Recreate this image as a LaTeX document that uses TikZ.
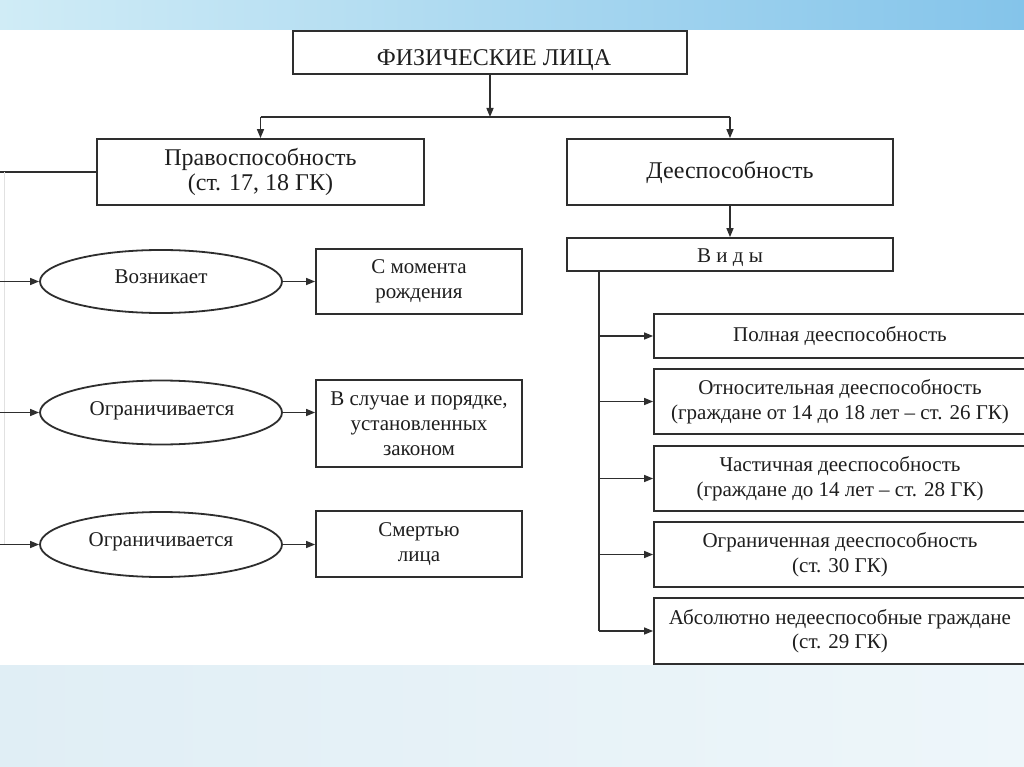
\documentclass[tikz,border=0pt]{standalone}
\usepackage{fontspec}
\setmainfont{Liberation Serif}
\usetikzlibrary{shapes.geometric,arrows.meta}
\definecolor{ink}{HTML}{1E1E1E}
\definecolor{frame}{HTML}{2E2E2E}
\tikzset{
  every node/.style={text=ink},
  boxnode/.style={draw=frame, line width=1.8pt, rectangle, inner sep=0pt, align=center},
  ellnode/.style={draw=frame, line width=1.8pt, ellipse, inner sep=0pt, align=center},
  txt/.style={inner sep=0pt, align=center},
  conn/.style={draw=frame, line width=1.4pt},
  arr/.style={conn, -{Triangle[length=9pt,width=7pt]}},
  ftitle/.style={font=\fontsize{24}{26}\selectfont},
  flevel/.style={font=\fontsize{24}{25}\selectfont},
  fmid/.style={font=\fontsize{21}{25}\selectfont},
  fright/.style={font=\fontsize{21}{24.5}\selectfont},
}
\begin{document}
\begin{tikzpicture}[x=1pt,y=-1pt]
\useasboundingbox (0,0) rectangle (1024,767);
\clip (0,0) rectangle (1024,767);
% background
\fill[white] (0,0) rectangle (1024,767);
\shade[left color={rgb,255:red,208;green,236;blue,246}, right color={rgb,255:red,132;green,196;blue,234}] (0,0) rectangle (1024,30);
\shade[left color={rgb,255:red,224;green,238;blue,245}, right color={rgb,255:red,238;green,246;blue,250}] (0,665) rectangle (1024,767);

% top level
\node[boxnode, minimum width=394pt, minimum height=43pt] (title) at (490,52.5) {};
\node[txt, ftitle] (titletext) at (494,60) {ФИЗИЧЕСКИЕ ЛИЦА};
\node[boxnode, flevel, minimum width=327pt, minimum height=66pt] (pravo) at (260.5,172) {Правоспособность\\(ст. 17, 18 ГК)};
\node[boxnode, flevel, minimum width=326pt, minimum height=66pt] (dee) at (730,172) {Дееспособность};
\node[boxnode, minimum width=326pt, minimum height=33pt] (vidy) at (730,254.5) {};
\node[txt, fright] (vidytext) at (730,258) {В и д ы};

\coordinate (split) at (490,117);
\draw[arr] (title.south) -- (split);
\draw[conn] (pravo.north |- split) -- (dee.north |- split);
\draw[arr] (pravo.north |- split) -- (pravo.north);
\draw[arr] (dee.north |- split) -- (dee.north);

% left branch
\node[ellnode, minimum width=242pt, minimum height=63pt] (e1) at (161,281.5) {};
\node[ellnode, minimum width=242pt, minimum height=64pt] (e2) at (161,412.5) {};
\node[ellnode, minimum width=242pt, minimum height=65pt] (e3) at (161,544.5) {};
\node[txt, fmid] (e1t) at (161,277) {Возникает};
\node[txt, fmid] (e2t) at (162,411) {Ограничивается};
\node[txt, fmid] (e3t) at (161,542) {Ограничивается};
\node[boxnode, fmid, minimum width=206pt, minimum height=65pt] (b1) at (419,281.5) {С момента\\рождения};
\node[boxnode, fmid, minimum width=206pt, minimum height=87pt] (b2) at (419,423.5) {В случае и порядке,\\установленных\\законом};
\node[boxnode, fmid, minimum width=206pt, minimum height=66pt] (b3) at (419,544) {Смертью\\лица};

\coordinate (lft) at (0,172);
\coordinate (spine) at (4,172);
\draw[conn] (pravo.west) -- (lft);
\draw[draw={rgb,255:red,225;green,225;blue,225}, line width=1pt] (spine) -- (spine |- e3.west);
\draw[arr] (lft |- e1.west) -- (e1.west);
\draw[arr] (lft |- e2.west) -- (e2.west);
\draw[arr] (lft |- e3.west) -- (e3.west);
\draw[arr] (e1.east) -- (e1.east -| b1.west);
\draw[arr] (e2.east) -- (e2.east -| b2.west);
\draw[arr] (e3.east) -- (e3.east -| b3.west);

% right branch
\draw[arr] (dee.south) -- (vidy.north);
\node[boxnode, fright, minimum width=372pt, minimum height=44pt] (r1) at (840,336) {Полная дееспособность};
\node[boxnode, fright, minimum width=372pt, minimum height=65pt] (r2) at (840,401.5) {Относительная дееспособность\\(граждане от 14 до 18 лет – ст. 26 ГК)};
\node[boxnode, fright, minimum width=372pt, minimum height=65pt] (r3) at (840,478.5) {Частичная дееспособность\\(граждане до 14 лет – ст. 28 ГК)};
\node[boxnode, fright, minimum width=372pt, minimum height=65pt] (r4) at (840,554.5) {Ограниченная дееспособность\\(ст. 30 ГК)};
\node[boxnode, fright, minimum width=372pt, minimum height=66pt] (r5) at (840,631) {Абсолютно недееспособные граждане\\(ст. 29 ГК)};

\coordinate (vtop) at (599,271);
\draw[conn] (vtop) -- (vtop |- r5.west);
\draw[arr] (vtop |- r1.west) -- (r1.west);
\draw[arr] (vtop |- r2.west) -- (r2.west);
\draw[arr] (vtop |- r3.west) -- (r3.west);
\draw[arr] (vtop |- r4.west) -- (r4.west);
\draw[arr] (vtop |- r5.west) -- (r5.west);
\end{tikzpicture}
\end{document}
